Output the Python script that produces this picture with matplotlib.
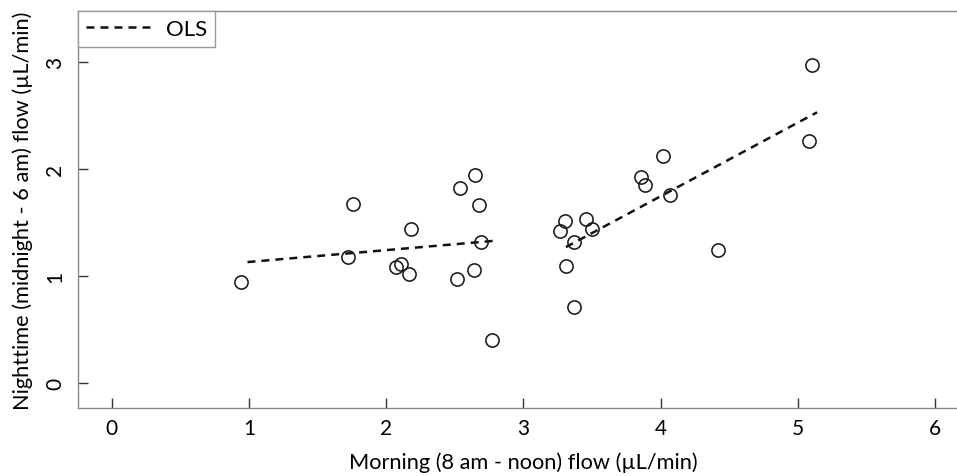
import matplotlib.pyplot as plt

plt.rcParams['font.family'] = ['Lato', 'DejaVu Sans']

# morning (x) vs nighttime (y) flow
morning = [0.94, 1.72, 1.76, 2.07, 2.11, 2.17, 2.18, 2.52, 2.54, 2.64,
           2.65, 2.68, 2.69, 2.77, 3.27, 3.30, 3.31, 3.37, 3.37, 3.46,
           3.50, 3.86, 3.89, 4.02, 4.07, 4.42, 5.08, 5.10]
night = [0.94, 1.18, 1.67, 1.08, 1.11, 1.02, 1.44, 0.97, 1.82, 1.06,
         1.94, 1.66, 1.32, 0.40, 1.42, 1.51, 1.09, 1.32, 0.71, 1.53,
         1.44, 1.93, 1.85, 2.12, 1.76, 1.24, 2.26, 2.97]

# two OLS segments
ols_left_x = [0.99, 2.80]
ols_left_y = [1.13, 1.33]
ols_right_x = [3.31, 5.14]
ols_right_y = [1.27, 2.53]

xticks = [0, 1, 2, 3, 4, 5, 6]
yticks = [0, 1, 2, 3]

fig = plt.figure(figsize=(9.57, 4.77), dpi=100)
ax = fig.add_axes([0.0815, 0.1426, 0.930, 0.8322])

dash = (0, (3.2, 2.4))
ax.plot(ols_left_x, ols_left_y, color='#111111', lw=1.8, linestyle=dash, label='OLS')
ax.plot(ols_right_x, ols_right_y, color='#111111', lw=1.8, linestyle=dash)
ax.plot(morning, night, linestyle='none', marker='o', markersize=9.5,
        markerfacecolor='none', markeredgecolor='#1a1a1a', markeredgewidth=1.15)

ax.set_xlim(-0.245, 6.24)
ax.set_ylim(-0.234, 3.477)
ax.set_xticks(xticks)
ax.set_yticks(yticks)
ax.set_yticklabels([str(t) for t in yticks], rotation=90, va='center')
ax.tick_params(direction='in', length=7.5, width=1.0, color='#333333',
               labelsize=15, pad=7)
ax.tick_params(axis='y', pad=9)

for side in ['left', 'bottom', 'top']:
    ax.spines[side].set_color('#888888')
    ax.spines[side].set_linewidth(1.0)
ax.spines['right'].set_visible(False)

ax.set_xlabel('Morning (8 am - noon) flow (\u00b5L/min)', fontsize=15.7, labelpad=10)
ax.set_ylabel('Nighttime (midnight - 6 am) flow (\u00b5L/min)', fontsize=15.7, labelpad=9)

leg = ax.legend(loc='upper left', bbox_to_anchor=(0, 1), borderaxespad=0,
                fancybox=False, framealpha=1, edgecolor='#999999',
                fontsize=16, handlelength=3.0, borderpad=0.35,
                handletextpad=0.6)
leg.get_frame().set_linewidth(1.0)

fig.savefig('out.png', dpi=100)
